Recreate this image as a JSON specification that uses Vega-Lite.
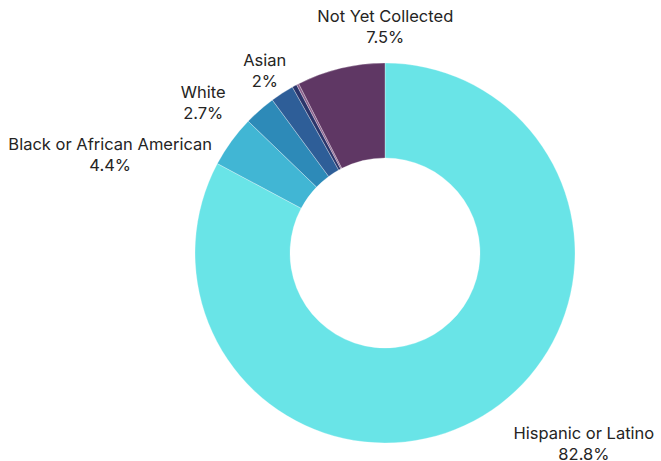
{
  "$schema": "https://vega.github.io/schema/vega-lite/v6.json",
  "width": 500,
  "height": 380,
  "autosize": {"type": "none"},
  "padding": {"left": 135, "top": 63, "right": 26, "bottom": 18},
  "background": "#ffffff",
  "config": {"view": {"stroke": null}},
  "data": {
    "values": [
      {"category": "Hispanic or Latino", "pct": 82.8, "rank": 1},
      {"category": "Black or African American", "pct": 4.4, "rank": 2},
      {"category": "White", "pct": 2.7, "rank": 3},
      {"category": "Asian", "pct": 2.0, "rank": 4},
      {"category": "American Indian or Alaska Native", "pct": 0.4, "rank": 5},
      {"category": "Two or More Races", "pct": 0.2, "rank": 6},
      {"category": "Not Yet Collected", "pct": 7.5, "rank": 7}
    ]
  },
  "transform": [
    {"stack": "pct", "groupby": [], "sort": [{"field": "rank", "order": "ascending"}], "as": ["s0", "s1"]},
    {"calculate": "(datum.s0 + datum.s1) / 2", "as": "mid"},
    {"calculate": "[datum.category, datum.pct + '%']", "as": "label"}
  ],
  "layer": [
    {
      "mark": {"type": "arc", "radius": 190, "radius2": 95, "stroke": "#ffffff", "strokeWidth": 0.3},
      "encoding": {
        "theta": {"field": "s0", "type": "quantitative", "scale": {"domain": [0, 100]}},
        "theta2": {"field": "s1"},
        "color": {
          "field": "category",
          "type": "nominal",
          "legend": null,
          "scale": {
            "domain": ["Hispanic or Latino", "Black or African American", "White", "Asian", "American Indian or Alaska Native", "Two or More Races", "Not Yet Collected"],
            "range": ["#69E4E7", "#41B6D4", "#2D8AB8", "#2E5E98", "#2B356B", "#8A5F8C", "#5F3764"]
          }
        }
      }
    },
    {
      "transform": [{"filter": "datum.category == 'Hispanic or Latino'"}],
      "mark": {"type": "text", "radius": 200, "dx": 96, "dy": 9.5, "align": "center", "baseline": "middle", "font": "Inter", "fontSize": 16.5, "color": "#252423", "lineHeight": 21},
      "encoding": {"theta": {"field": "mid", "type": "quantitative", "stack": null}, "text": {"field": "label"}}
    },
    {
      "transform": [{"filter": "datum.category == 'Black or African American'"}],
      "mark": {"type": "text", "radius": 200, "dx": -113, "dy": 9.5, "align": "center", "baseline": "middle", "font": "Inter", "fontSize": 16.5, "color": "#252423", "lineHeight": 21},
      "encoding": {"theta": {"field": "mid", "type": "quantitative", "stack": null}, "text": {"field": "label"}}
    },
    {
      "transform": [{"filter": "datum.category == 'White'"}],
      "mark": {"type": "text", "radius": 200, "dx": -50, "dy": -9.5, "align": "center", "baseline": "middle", "font": "Inter", "fontSize": 16.5, "color": "#252423", "lineHeight": 21},
      "encoding": {"theta": {"field": "mid", "type": "quantitative", "stack": null}, "text": {"field": "label"}}
    },
    {
      "transform": [{"filter": "datum.category == 'Asian'"}],
      "mark": {"type": "text", "radius": 200, "dx": -12, "dy": -23.5, "align": "center", "baseline": "middle", "font": "Inter", "fontSize": 16.5, "color": "#252423", "lineHeight": 21},
      "encoding": {"theta": {"field": "mid", "type": "quantitative", "stack": null}, "text": {"field": "label"}}
    },
    {
      "transform": [{"filter": "datum.category == 'Not Yet Collected'"}],
      "mark": {"type": "text", "radius": 200, "dx": 47, "dy": -41.5, "align": "center", "baseline": "middle", "font": "Inter", "fontSize": 16.5, "color": "#252423", "lineHeight": 21},
      "encoding": {"theta": {"field": "mid", "type": "quantitative", "stack": null}, "text": {"field": "label"}}
    }
  ]
}
